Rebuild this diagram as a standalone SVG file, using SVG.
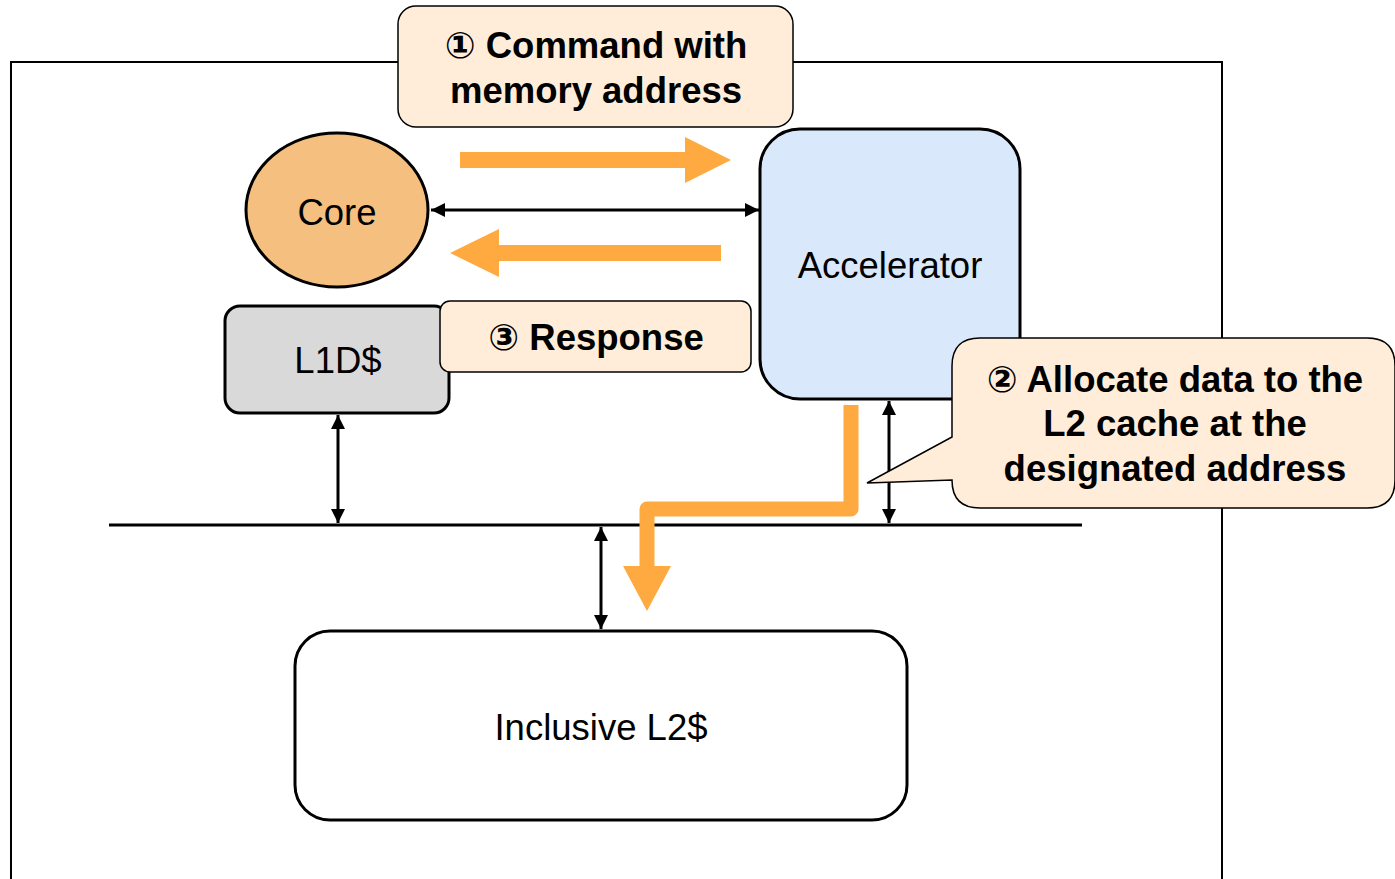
<svg xmlns="http://www.w3.org/2000/svg" width="1395" height="879" viewBox="0 0 1395 879">
<style>
.t{font-family:"Liberation Sans",Arial,"DejaVu Sans",sans-serif;font-size:36.5px;fill:#000;text-anchor:middle}
.b{font-weight:bold}
.node{stroke:#000;stroke-width:3}
.call{fill:#FFEDD9;stroke:#000;stroke-width:1.5}
.conn{stroke:#000;stroke-width:3;fill:none}
.oa{fill:#FFAA40}
</style>
<defs>
<marker id="ahb" markerWidth="14" markerHeight="14" refX="14" refY="7" orient="auto-start-reverse" markerUnits="userSpaceOnUse" viewBox="0 0 14 14">
<path d="M0,0 L14,7 L0,14 z" fill="#000"/>
</marker>
</defs>
<rect width="1395" height="879" fill="#fff"/>
<g id="frame"><path d="M11,879 V62 H1222 V879" fill="none" stroke="#000" stroke-width="2"/></g>

<g id="connectors">
<line x1="109" y1="525" x2="1082" y2="525" stroke="#000" stroke-width="3"/>
<line class="conn" x1="431" y1="210" x2="759" y2="210" marker-start="url(#ahb)" marker-end="url(#ahb)"/>
<line class="conn" x1="338" y1="415" x2="338" y2="523" marker-start="url(#ahb)" marker-end="url(#ahb)"/>
<line class="conn" x1="889" y1="401" x2="889" y2="523" marker-start="url(#ahb)" marker-end="url(#ahb)"/>
<line class="conn" x1="601" y1="527" x2="601" y2="629" marker-start="url(#ahb)" marker-end="url(#ahb)"/>
<polygon class="oa" points="460,152 685,152 685,137 731,160 685,183 685,168 460,168"/>
<polygon class="oa" points="721,245 499,245 499,229 450,253 499,277 499,261 721,261"/>
<path d="M851,405 V509 H647 V572" fill="none" stroke="#FFAA40" stroke-width="15" stroke-linejoin="round"/>
<polygon class="oa" points="623,566 671,566 647,611"/>
</g>

<g id="callout1">
<rect class="call" x="398" y="6" width="395" height="121" rx="18"/>
<text class="t b" x="596" y="58">① Command with</text>
<text class="t b" x="596" y="103">memory address</text>
</g>

<g id="core">
<ellipse class="node" cx="337" cy="210" rx="91" ry="77" fill="#F5C07F"/>
<text class="t" x="337" y="225">Core</text>
</g>

<g id="accelerator">
<rect class="node" x="760" y="129" width="260" height="270" rx="40" fill="#DAE8FC"/>
<text class="t" x="890" y="278">Accelerator</text>
</g>

<g id="l1d">
<rect class="node" x="225" y="306" width="224" height="107" rx="15" fill="#D9D9D9"/>
<text class="t" x="338" y="373">L1D$</text>
</g>

<g id="callout3">
<rect class="call" x="440" y="301" width="311" height="71" rx="10"/>
<text class="t b" x="596" y="350">③ Response</text>
</g>

<g id="callout2">
<path class="call" d="M980,338 H1367 Q1395,338 1395,366 V480 Q1395,508 1367,508 H980 Q952,508 952,480 L867,483 L952,437 V366 Q952,338 980,338 Z"/>
<text class="t b" x="1175" y="392">② Allocate data to the</text>
<text class="t b" x="1175" y="436">L2 cache at the</text>
<text class="t b" x="1175" y="481">designated address</text>
</g>

<g id="l2">
<rect class="node" x="295" y="631" width="612" height="189" rx="35" fill="#fff"/>
<text class="t" x="601" y="740">Inclusive L2$</text>
</g>
</svg>
